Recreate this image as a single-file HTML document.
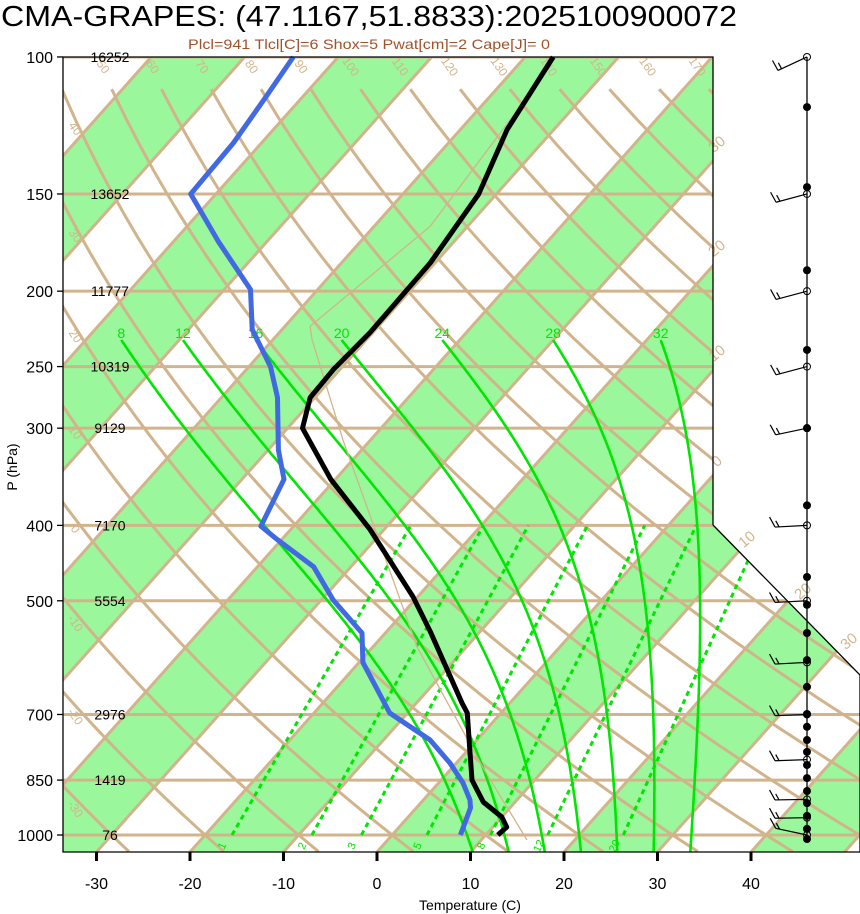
<!DOCTYPE html>
<html><head><meta charset="utf-8"><style>
html,body{margin:0;padding:0;background:#fff;width:860px;height:914px;overflow:hidden}
svg{display:block;font-family:"Liberation Sans",Arial,sans-serif}
</style></head><body>
<svg id="chart" xmlns="http://www.w3.org/2000/svg" width="860" height="914" viewBox="0 0 860 914">
<defs><clipPath id="plotclip"><polygon points="63,57 713,57 713,525 860,675 860,852 63,852"/></clipPath></defs>
<text x="1" y="26" font-size="28.5" textLength="736" lengthAdjust="spacingAndGlyphs">CMA-GRAPES: (47.1167,51.8833):2025100900072</text>
<text x="369" y="49" font-size="14" fill="#a0522d" text-anchor="middle" textLength="362" lengthAdjust="spacingAndGlyphs">Plcl=941 Tlcl[C]=6 Shox=5 Pwat[cm]=2 Cape[J]= 0</text>
<g id="bg" clip-path="url(#plotclip)"></g>
<g id="fg"></g>
<text x="17" y="467" font-size="14" text-anchor="middle" transform="rotate(-90 17 467)">P (hPa)</text>
<text x="470" y="910" font-size="14" text-anchor="middle">Temperature (C)</text>
</svg>
<script>
// ---- data ----
const pLevels=[100,150,200,250,300,400,500,700,850,1000];
const heights=[16252,13652,11777,10319,9129,7170,5554,2976,1419,76];
const tTicks=[-30,-20,-10,0,10,20,30,40];
const tempP=[1000,977,948,907,850,771,697,677,548,494,405,349,300,274,252,226,184,150,124,100];
const tempT=[11.3,11.5,10.0,6.6,3.3,-0.1,-3.6,-5.1,-15.3,-20.5,-31.5,-40.5,-48.4,-50.5,-50.7,-50.3,-50.5,-51.9,-55.0,-57.0];
const dewP=[1000,923,902,857,808,755,697,600,550,499,452,417,401,349,320,274,250,224,199,173,150,129,113,100];
const dewT=[7.3,5.8,5.0,2.6,-0.7,-5.0,-11.9,-19.6,-22.5,-28.7,-34.0,-40.5,-43.5,-45.5,-48.9,-54.0,-57.7,-63.2,-67.2,-75.1,-82.7,-83.0,-83.9,-84.8];
const parcelP=[1015,818,573,311,231,222,165,116,100];
const parcelT=[14.9,3.2,-15.3,-42.9,-55.8,-57.3,-54.0,-55.8,-57.3];
const moistThetaW=[8,12,16,20,24,28,32];
const mixRatios=[1,2,3,5,8,12,20];
const dryThetas=[-40,-30,-20,-10,0,10,20,30,40,50,60,70,80,90,100,110,120,130,140,150,160,170,180,190,200];
const barbP=[100,150,200,250,300,400,500,600,700,800,900,950,1000];
const barbAngle=[25,15,15,15,12,3,3,3,2,2,1,1,-12];
const dotP=[116,147,188,238,300,377,466,506,550,596,645,699,726,755,782,813,845,878,910,945,982,1012];
const isoLabelText=["30","20","10","0","10","20","30"];

// ---- axes ----
const S="http://www.w3.org/2000/svg";
function yOf(p){return 835-337.9*Math.log(1000/p);}
function xTY(T,y){return 377+9.35*T+(852-y)*0.892;}
function xOf(T,p){return xTY(T,yOf(p));}
function mk(tag,parent){const e=document.createElementNS(S,tag);parent.appendChild(e);return e;}
const bg=document.getElementById('bg'), fg=document.getElementById('fg');
const TAN="#d2b48c";
function pts(arrP,arrT){return arrP.map((p,i)=>xOf(arrT[i],p).toFixed(1)+","+yOf(p).toFixed(1)).join(" ");}

const wb=mk('rect',bg);wb.setAttribute('x',63);wb.setAttribute('y',57);wb.setAttribute('width',797);wb.setAttribute('height',795);wb.setAttribute('fill','#fff');


for(let T=-160;T<=60;T+=20){
  const b=mk('polygon',bg);
  b.setAttribute('points',[[xTY(T,852),852],[xTY(T+10,852),852],[xTY(T+10,57),57],[xTY(T,57),57]].map(a=>a.join(',')).join(' '));
  b.setAttribute('fill','#9bf79b');
  
  
}
for(let T=-160;T<=70;T+=10){
  const l=mk('line',bg);
  l.setAttribute('x1',xTY(T,852));l.setAttribute('y1',852);l.setAttribute('x2',xTY(T,57));l.setAttribute('y2',57);
  l.setAttribute('stroke',TAN);l.setAttribute('stroke-width',3);
  
  
}
function dryT(th,p){return (th+273.15)*Math.pow(p/1000,0.2857)-273.15;}
dryThetas.forEach(th=>{
  const ps=[];for(let p=110;p<=1055;p+=10)ps.push(p);
  const l=mk('polyline',bg);
  l.setAttribute('points',ps.map(p=>xOf(dryT(th,p),p).toFixed(1)+","+yOf(p).toFixed(1)).join(' '));
  l.setAttribute('fill','none');l.setAttribute('stroke',TAN);l.setAttribute('stroke-width',3);
  
  
});
pLevels.forEach(p=>{
  const l=mk('line',bg);
  l.setAttribute('x1',63);l.setAttribute('x2',860);l.setAttribute('y1',yOf(p));l.setAttribute('y2',yOf(p));
  l.setAttribute('stroke',TAN);l.setAttribute('stroke-width',3);
  
  
});
function esat(T){return 6.112*Math.exp(17.67*T/(T+243.5));}
function dTdlnp(T,p){const Tk=T+273.15,es=esat(T),rs=0.622*es/(p-es);
  return (287*Tk+2.5e6*rs)/(1004+2.5e6*2.5e6*rs*0.622/(287*Tk*Tk));}
function moistProfile(thw){
  const out=[];let T=thw,p=1000;const h=0.005;
  let T2=thw,p2=1000;
  while(p2<1052){const k=dTdlnp(T2,p2);T2+=k*h;p2*=Math.exp(h);}
  out.push([p2,T2],[1000,thw]);
  while(p>232){T-=dTdlnp(T,p)*h;p*=Math.exp(-h);out.push([p,T]);}
  return out;
}
moistThetaW.forEach(tw=>{
  const pr=moistProfile(tw);
  const l=mk('polyline',bg);
  l.setAttribute('points',pr.map(a=>xOf(a[1],a[0]).toFixed(1)+","+yOf(a[0]).toFixed(1)).join(' '));
  l.setAttribute('fill','none');l.setAttribute('stroke','#00e600');l.setAttribute('stroke-width',2.6);
  
  
  const top=pr[pr.length-1];
  const t=mk('text',fg);
  t.setAttribute('x',xOf(top[1],top[0]));t.setAttribute('y',yOf(top[0])-2);t.setAttribute('font-size',14);
  t.setAttribute('fill','#00e600');t.setAttribute('text-anchor','middle');
  t.textContent=tw;
  
  
});
function tdFromW(w,p){const e=w*p/(622+w),l=Math.log(e/6.112);return 243.5*l/(17.67-l);}
mixRatios.forEach(w=>{
  const l=mk('line',bg);
  l.setAttribute('x1',xOf(tdFromW(w,1000),1000));l.setAttribute('y1',yOf(1000));
  l.setAttribute('x2',xOf(tdFromW(w,400),400));l.setAttribute('y2',yOf(400));
  l.setAttribute('stroke','#00e600');l.setAttribute('stroke-width',3);l.setAttribute('stroke-dasharray','5,4');
  
  
  const x=xOf(tdFromW(w,1025),1025)-2,y=yOf(1025)+4;
  const t=mk('text',bg);
  t.setAttribute('x',x);t.setAttribute('y',y);t.setAttribute('font-size',11);t.setAttribute('fill','#00e600');
  t.setAttribute('text-anchor','middle');t.setAttribute('transform','rotate(-65 '+x+' '+y+')');
  t.textContent=w;
  
  
});
dryThetas.forEach(th=>{
  let x,y;
  const yt=yOf(108);const xt=xOf(dryT(th,108),108);
  if(xt>70&&xt<705){x=xt-9;y=yt-14;}
  else if(xt<=70){
    let p=110;while(p<1050&&xOf(dryT(th,p),p)<70)p+=2; if(p>=1040)return; x=72;y=yOf(p)+18;
  } else return;
  const t=mk('text',bg);
  t.setAttribute('x',x);t.setAttribute('y',y);t.setAttribute('font-size',12);t.setAttribute('fill',TAN);
  t.setAttribute('text-anchor','middle');t.setAttribute('transform','rotate(55 '+x+' '+y+')');
  t.textContent=th;
  
  
});
[[720,148],[720,252],[720,357],[720,465],[750,543],[806,595],[852,645]].forEach((a,i)=>{
  const t=mk('text',fg);
  t.setAttribute('x',a[0]);t.setAttribute('y',a[1]);t.setAttribute('font-size',15);t.setAttribute('fill',TAN);
  t.setAttribute('text-anchor','middle');t.setAttribute('transform','rotate(-40 '+a[0]+' '+a[1]+')');
  t.textContent=isoLabelText[i];
  
  
});
const pl=mk('polyline',bg);
pl.setAttribute('points',pts(parcelP,parcelT));pl.setAttribute('fill','none');pl.setAttribute('stroke',TAN);pl.setAttribute('stroke-width',1.3);


const dl=mk('polyline',fg);
dl.setAttribute('points',pts(dewP,dewT));dl.setAttribute('fill','none');dl.setAttribute('stroke','#4169e1');dl.setAttribute('stroke-width',5);dl.setAttribute('stroke-linejoin','round');


const tl=mk('polyline',fg);
tl.setAttribute('points',pts(tempP,tempT));tl.setAttribute('fill','none');tl.setAttribute('stroke','#000');tl.setAttribute('stroke-width',5);tl.setAttribute('stroke-linejoin','round');


const bd=mk('polyline',fg);
bd.setAttribute('points','713,525 713,57 63,57 63,852 860,852 860,675 713,525');bd.setAttribute('fill','none');bd.setAttribute('stroke','#000');bd.setAttribute('stroke-width',1.3);


pLevels.forEach((p,i)=>{
  const t=mk('text',fg);t.setAttribute('x',53);t.setAttribute('y',yOf(p)+6);t.setAttribute('font-size',16);t.setAttribute('text-anchor','end');
  t.textContent=p;
  
  
  const h=mk('text',fg);h.setAttribute('x',110);h.setAttribute('y',yOf(p)+5);h.setAttribute('font-size',14);h.setAttribute('text-anchor','middle');
  h.textContent=heights[i];
  
  
  const k=mk('line',fg);k.setAttribute('x1',57);k.setAttribute('x2',63);k.setAttribute('y1',yOf(p));k.setAttribute('y2',yOf(p));k.setAttribute('stroke','#000');k.setAttribute('stroke-width',1.3);
  
  
});
tTicks.forEach(T=>{
  const x=xTY(T,852);
  const k=mk('line',fg);k.setAttribute('x1',x);k.setAttribute('x2',x);k.setAttribute('y1',852);k.setAttribute('y2',861);k.setAttribute('stroke','#000');k.setAttribute('stroke-width',3);
  
  
  const t=mk('text',fg);t.setAttribute('x',x);t.setAttribute('y',889);t.setAttribute('font-size',16);t.setAttribute('text-anchor','middle');
  t.textContent=T;
  
  
});
const SX=807;
const st=mk('line',fg);st.setAttribute('x1',SX);st.setAttribute('x2',SX);st.setAttribute('y1',yOf(100));st.setAttribute('y2',yOf(1000));st.setAttribute('stroke','#000');st.setAttribute('stroke-width',1.3);


dotP.forEach(p=>{
  const c=mk('circle',fg);c.setAttribute('cx',SX);c.setAttribute('cy',yOf(p));c.setAttribute('r',4);c.setAttribute('fill','#000');
  
  
});
barbP.forEach((p,i)=>{
  const y=yOf(p),a=barbAngle[i]*Math.PI/180,L=32;
  const ex=SX-L*Math.cos(a),ey=y+L*Math.sin(a);
  const g=mk('g',fg);
  
  
  const o=mk('circle',g);o.setAttribute('cx',SX);o.setAttribute('cy',y);o.setAttribute('r',3.5);o.setAttribute('fill','none');o.setAttribute('stroke','#000');o.setAttribute('stroke-width',1);
  const s=mk('line',g);s.setAttribute('x1',SX);s.setAttribute('y1',y);s.setAttribute('x2',ex);s.setAttribute('y2',ey);s.setAttribute('stroke','#000');s.setAttribute('stroke-width',1.2);
  [[0,10],[4,6]].forEach(f=>{
    const bx=ex+f[0]*Math.cos(a),by=ey-f[0]*Math.sin(a);
    const fl=mk('line',g);fl.setAttribute('x1',bx);fl.setAttribute('y1',by);
    fl.setAttribute('x2',bx-f[1]*0.55);fl.setAttribute('y2',by-f[1]);fl.setAttribute('stroke','#000');fl.setAttribute('stroke-width',1.2);
  });
});
</script>
</body></html>
